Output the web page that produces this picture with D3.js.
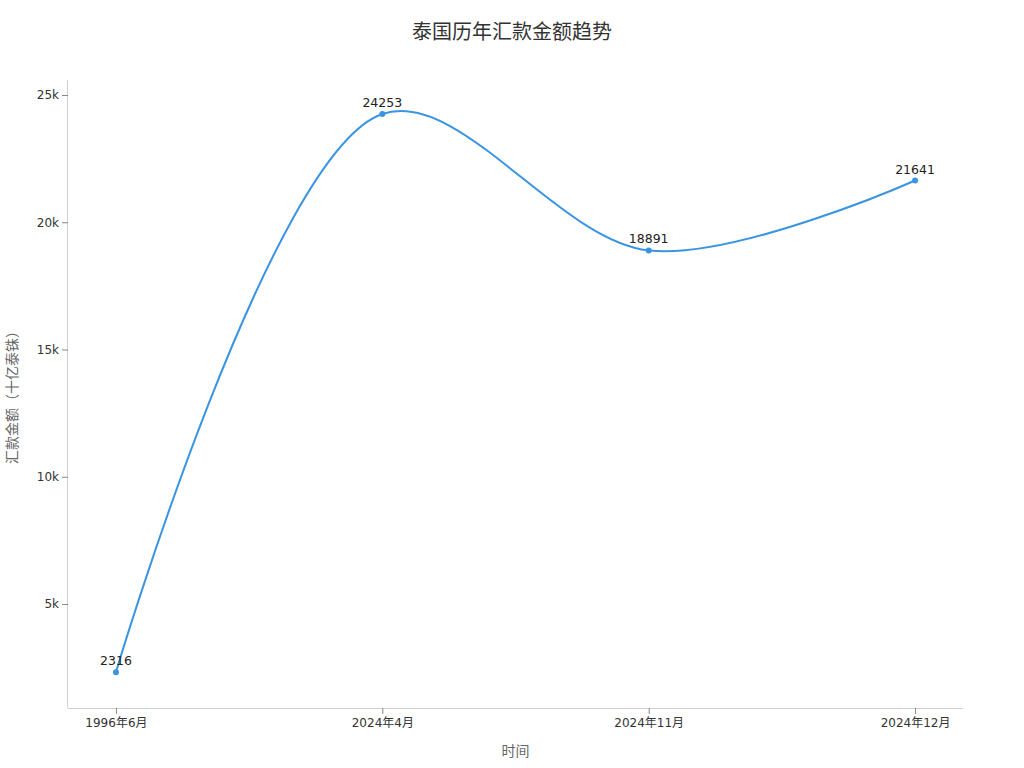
<!DOCTYPE html>
<html><head><meta charset="utf-8">
<script src="https://cdn.jsdelivr.net/npm/d3@7"></script>
<style>body{margin:0;background:#fff;font-family:"DejaVu Sans","Noto Sans CJK SC",sans-serif;}</style>
</head><body><svg id="c" width="1024" height="768"></svg>
<script>
const categories = ["1996年6月", "2024年4月", "2024年11月", "2024年12月"];
const values = [2316, 24253, 18891, 21641];
const yTicks = [5000, 10000, 15000, 20000, 25000];
const title = "泰国历年汇款金额趋势";
const xTitle = "时间";
const yTitle = "汇款金额（十亿泰铢）";

const svg = d3.select("#c");
const L = 68, R = 963, T = 80, B = 708;
const x = d3.scalePoint().domain(categories).range([L, R]).padding(0.18);
const y = d3.scaleLinear().domain([914, 25590]).range([B, T]);
const font = '"DejaVu Sans","Noto Sans CJK SC",sans-serif';

svg.append("text").attr("x", 512).attr("y", 39).attr("text-anchor", "middle")
  .attr("font-size", 20).attr("fill", "#333").attr("font-family", font).text(title);

const xa = svg.append("g").attr("transform", `translate(0,${B})`)
  .call(d3.axisBottom(x).tickSize(6).tickPadding(4).tickSizeOuter(0));
const ya = svg.append("g").attr("transform", `translate(${L},0)`)
  .call(d3.axisLeft(y).tickValues(yTicks).tickFormat(d => (d/1000) + "k").tickSize(6).tickPadding(3).tickSizeOuter(0));
[xa, ya].forEach(a => {
  a.select(".domain").attr("stroke", "#d0d0d0");
  a.selectAll(".tick line").attr("stroke", "#888");
  a.selectAll(".tick text").attr("font-size", 12).attr("fill", "#333").attr("font-family", font);
});
xa.select(".domain").attr("d", `M${L},0.5H${R}`);
ya.select(".domain").attr("d", `M-0.5,${T}V${B}`);

svg.append("text").attr("x", (L + R) / 2).attr("y", 756).attr("text-anchor", "middle")
  .attr("font-size", 14).attr("fill", "#666").attr("font-family", font).text(xTitle);
svg.append("text").attr("transform", `translate(17,${(T + B) / 2}) rotate(-90)`).attr("text-anchor", "middle")
  .attr("font-size", 14).attr("fill", "#666").attr("font-family", font).text(yTitle);

const data = categories.map((c, i) => ({c, v: values[i]}));
const line = d3.line().x(d => x(d.c)).y(d => y(d.v)).curve(d3.curveCatmullRom.alpha(0.5));
svg.append("path").datum(data).attr("d", line).attr("fill", "none")
  .attr("stroke", "#3a94e0").attr("stroke-width", 2);
svg.selectAll("circle.p").data(data).join("circle").attr("class", "p")
  .attr("cx", d => x(d.c)).attr("cy", d => y(d.v)).attr("r", 3).attr("fill", "#3a94e0");
svg.selectAll("text.l").data(data).join("text").attr("class", "l")
  .attr("x", d => x(d.c)).attr("y", d => y(d.v) - 7).attr("text-anchor", "middle")
  .attr("font-size", 12.5).attr("fill", "#222").attr("font-family", font).text(d => d.v);
</script></body></html>
